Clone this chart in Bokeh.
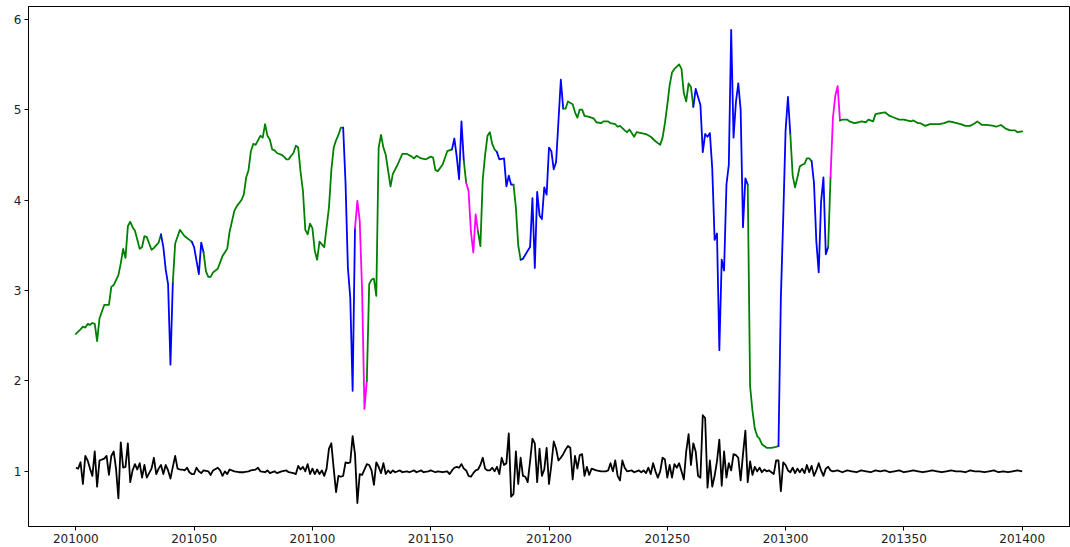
from bokeh.plotting import figure
from bokeh.models import Range1d, FixedTicker, BasicTickFormatter, ColumnDataSource
from bokeh.embed import file_html
from bokeh.resources import INLINE

PERIOD0 = 201000

# main series: period offset and value
main_off = [0, 2, 3, 4, 5, 6, 7, 8, 9, 10, 12, 14, 15, 16, 18, 19, 20, 21, 22, 23, 24, 25, 27, 28, 29, 30,
            32, 33, 35, 36, 37, 38, 39, 40, 41, 42, 44, 46, 49, 50, 52, 53, 54, 55, 56, 57, 58, 60, 61, 62,
            64, 65, 67, 68, 70, 71, 72, 73, 74, 75, 76, 77, 78, 79, 80, 81, 82, 83, 84, 85, 87, 88, 89, 90,
            91, 92, 93, 94, 95, 96, 97, 98, 99, 100, 101, 102, 103, 105, 107, 108, 109, 110, 111, 112, 113,
            114, 115, 116, 117, 118, 119, 120, 121, 122, 123, 124, 125, 126, 127, 128, 129, 130, 131, 133,
            134, 136, 138, 140, 142, 143, 144, 146, 148, 150, 151, 152, 153, 155, 157, 159, 160, 161, 162,
            163, 164, 165, 166, 167, 168, 169, 170, 171, 172, 173, 174, 175, 176, 177, 178, 179, 181, 182,
            183, 184, 185, 186, 187, 188, 189, 191, 192, 193, 194, 195, 196, 197, 198, 199, 200, 201, 202,
            203, 205, 206, 207, 208, 210, 211, 212, 213, 214, 215, 217, 219, 220, 222, 223, 225, 226, 228,
            229, 230, 232, 233, 234, 236, 237, 239, 241, 243, 245, 247, 248, 249, 250, 251, 252, 253, 255,
            256, 257, 258, 259, 260, 261, 262, 263, 264, 265, 266, 267, 268, 269, 270, 271, 272, 273, 274,
            275, 276, 277, 278, 279, 280, 281, 282, 283, 284, 285, 286, 287, 288, 289, 290, 292, 294, 296,
            297, 298, 299, 300, 301, 302, 303, 304, 305, 306, 307, 308, 309, 310, 311, 312, 313, 314, 315,
            316, 317, 318, 319, 320, 321, 322, 323, 324, 326, 327, 329, 331, 332, 334, 335, 337, 338, 340,
            342, 344, 346, 348, 350, 353, 354, 356, 357, 359, 361, 363, 365, 367, 369, 371, 374, 376, 378,
            380, 381, 383, 385, 388, 389, 391, 393, 395, 397, 398, 400]
main_val = [2.52, 2.57, 2.60, 2.59, 2.63, 2.62, 2.64, 2.63, 2.44, 2.69, 2.84, 2.84, 3.04, 3.06, 3.17, 3.30,
            3.46, 3.36, 3.71, 3.76, 3.70, 3.66, 3.46, 3.48, 3.60, 3.59, 3.45, 3.47, 3.53, 3.62, 3.48, 3.23,
            3.07, 2.18, 3.09, 3.52, 3.67, 3.60, 3.54, 3.48, 3.18, 3.53, 3.42, 3.21, 3.15, 3.15, 3.20, 3.24,
            3.31, 3.38, 3.46, 3.65, 3.88, 3.93, 4.00, 4.06, 4.25, 4.33, 4.54, 4.62, 4.61, 4.66, 4.71, 4.69,
            4.84, 4.71, 4.67, 4.56, 4.55, 4.52, 4.50, 4.48, 4.45, 4.45, 4.49, 4.52, 4.60, 4.58, 4.31, 4.10,
            3.67, 3.62, 3.74, 3.69, 3.44, 3.34, 3.54, 3.48, 3.92, 4.33, 4.58, 4.66, 4.72, 4.80, 4.80, 4.19,
            3.25, 2.92, 1.89, 3.69, 3.99, 3.77, 3.00, 1.69, 2.00, 3.07, 3.12, 3.13, 2.94, 4.58, 4.72, 4.58,
            4.50, 4.15, 4.29, 4.39, 4.51, 4.51, 4.48, 4.46, 4.49, 4.46, 4.45, 4.48, 4.47, 4.33, 4.32, 4.39,
            4.54, 4.56, 4.68, 4.48, 4.23, 4.87, 4.43, 4.19, 4.10, 3.65, 3.42, 3.84, 3.65, 3.49, 4.23, 4.50,
            4.71, 4.75, 4.62, 4.56, 4.53, 4.45, 4.46, 4.15, 4.27, 4.17, 4.17, 3.92, 3.50, 3.34, 3.35, 3.44,
            3.48, 4.02, 3.25, 4.09, 3.83, 3.79, 4.14, 4.06, 4.58, 4.54, 4.34, 4.42, 5.33, 5.01, 5.01, 5.09,
            5.06, 4.97, 4.91, 5.00, 5.00, 4.93, 4.92, 4.90, 4.86, 4.85, 4.87, 4.87, 4.85, 4.84, 4.81, 4.82,
            4.77, 4.75, 4.78, 4.70, 4.75, 4.74, 4.73, 4.70, 4.65, 4.61, 4.69, 4.85, 5.05, 5.27, 5.41, 5.45,
            5.50, 5.45, 5.18, 5.09, 5.29, 5.25, 5.03, 5.23, 5.14, 5.05, 4.53, 4.73, 4.70, 4.74, 4.35, 3.56,
            3.63, 2.34, 3.34, 3.22, 4.17, 4.39, 5.88, 4.69, 5.08, 5.29, 5.00, 3.70, 4.24, 4.17, 1.94, 1.67,
            1.47, 1.39, 1.36, 1.30, 1.26, 1.26, 1.27, 1.28, 2.92, 3.80, 4.77, 5.14, 4.73, 4.27, 4.14, 4.25,
            4.37, 4.39, 4.40, 4.46, 4.46, 4.43, 4.19, 3.54, 3.20, 3.98, 4.25, 3.40, 3.48, 4.25, 4.91, 5.15,
            5.26, 4.88, 4.89, 4.89, 4.87, 4.85, 4.86, 4.87, 4.86, 4.89, 4.87, 4.95, 4.96, 4.97, 4.93, 4.91,
            4.89, 4.89, 4.87, 4.88, 4.85, 4.85, 4.82, 4.84, 4.84, 4.84, 4.85, 4.87, 4.86, 4.84, 4.82, 4.82,
            4.85, 4.87, 4.83, 4.83, 4.82, 4.81, 4.83, 4.79, 4.77, 4.77, 4.75, 4.76]

# regime of the main series, from each start offset onward
regime_start = [0, 36, 41, 49, 54, 113, 118, 123, 159, 164, 165, 170, 178, 185, 188, 206, 261, 284, 297,
                302, 311, 318, 319, 323]
regime_state = ["calm", "volatile", "calm", "volatile", "calm", "volatile", "stress", "calm", "volatile",
                "calm", "stress", "calm", "volatile", "calm", "volatile", "calm", "volatile", "calm",
                "volatile", "calm", "volatile", "calm", "stress", "calm"]

# black ratio series
ratio_off = [0, 1, 2, 3, 4, 5, 6, 7, 8, 9, 10, 12, 13, 14, 15, 16, 17, 18, 19, 20, 21, 22, 23, 24, 25, 26,
             27, 28, 29, 30, 31, 32, 33, 34, 35, 36, 37, 38, 39, 40, 41, 42, 43, 44, 45, 46, 47, 48, 49, 50,
             51, 52, 53, 54, 56, 57, 58, 60, 61, 62, 63, 64, 65, 67, 69, 71, 73, 74, 76, 77, 78, 80, 81, 82,
             84, 85, 87, 89, 90, 92, 93, 94, 95, 96, 97, 98, 99, 100, 101, 102, 103, 104, 105, 106, 107, 108,
             109, 110, 111, 112, 113, 114, 115, 116, 117, 118, 119, 120, 121, 122, 123, 124, 125, 126, 127,
             128, 129, 130, 131, 132, 133, 134, 135, 137, 138, 140, 141, 143, 144, 146, 147, 149, 150, 152,
             153, 155, 157, 158, 159, 160, 161, 162, 163, 164, 165, 166, 167, 168, 169, 170, 171, 172, 173,
             174, 175, 176, 177, 178, 179, 180, 181, 182, 183, 184, 185, 186, 187, 188, 189, 190, 191, 192,
             193, 194, 195, 196, 197, 198, 199, 200, 201, 202, 203, 204, 205, 206, 207, 208, 209, 210, 211,
             212, 213, 214, 215, 216, 217, 218, 220, 222, 224, 225, 226, 227, 228, 229, 230, 231, 232, 233,
             235, 236, 237, 238, 239, 240, 241, 242, 243, 244, 245, 246, 247, 248, 249, 250, 251, 252, 253,
             254, 255, 256, 257, 258, 259, 260, 261, 262, 263, 264, 265, 266, 267, 268, 269, 270, 271, 272,
             273, 274, 275, 276, 277, 278, 279, 280, 281, 282, 283, 284, 285, 286, 287, 288, 289, 290, 291,
             292, 293, 294, 295, 296, 297, 298, 299, 300, 301, 302, 303, 304, 305, 306, 307, 308, 309, 310,
             311, 312, 313, 314, 315, 316, 317, 318, 319, 320, 322, 324, 326, 328, 330, 332, 334, 336, 338,
             340, 342, 344, 346, 348, 350, 352, 354, 356, 358, 360, 362, 364, 366, 368, 370, 372, 374, 376,
             378, 380, 382, 384, 386, 388, 390, 392, 394, 396, 398, 400]
ratio_val = [1.04, 1.03, 1.10, 0.86, 1.17, 1.12, 1.03, 0.95, 1.22, 0.83, 1.12, 1.14, 1.17, 0.96, 1.17, 1.22,
             1.03, 0.70, 1.32, 1.04, 1.05, 1.31, 0.88, 1.01, 1.08, 1.02, 1.09, 0.93, 1.07, 0.93, 0.98, 1.03,
             1.15, 0.97, 1.03, 1.07, 0.97, 1.07, 1.01, 0.92, 1.05, 1.17, 1.03, 1.02, 1.02, 1.01, 1.04, 0.99,
             0.97, 0.97, 1.04, 1.00, 0.98, 1.01, 1.00, 0.96, 1.01, 1.04, 1.01, 0.95, 1.00, 0.97, 1.02, 1.00,
             0.99, 0.99, 1.00, 1.01, 1.02, 1.04, 1.00, 0.99, 1.01, 0.98, 1.00, 0.98, 1.00, 1.01, 0.99, 0.98,
             0.97, 1.06, 1.02, 1.05, 1.00, 1.08, 0.97, 1.03, 0.97, 1.02, 0.97, 1.01, 0.95, 1.03, 1.25, 1.31,
             1.03, 0.77, 0.95, 0.94, 0.95, 1.10, 1.09, 1.10, 1.39, 1.19, 0.65, 0.97, 0.96, 1.02, 1.08, 1.07,
             1.01, 0.85, 1.10, 1.05, 0.98, 1.09, 0.97, 1.01, 0.98, 1.01, 0.99, 1.01, 0.99, 1.00, 0.99, 1.01,
             0.99, 1.01, 0.99, 1.00, 1.01, 0.99, 1.00, 0.99, 1.00, 0.97, 1.01, 1.04, 1.05, 1.04, 1.08, 1.03,
             1.01, 0.95, 0.94, 0.98, 1.01, 1.02, 1.07, 1.15, 1.03, 1.01, 1.01, 1.04, 1.00, 1.05, 0.97, 1.15,
             1.07, 1.09, 1.42, 0.72, 0.75, 1.22, 0.86, 1.15, 0.95, 0.94, 0.88, 1.11, 1.36, 1.31, 0.88, 1.25,
             0.95, 1.02, 1.26, 0.86, 1.07, 1.33, 1.25, 1.12, 1.15, 1.19, 1.24, 1.28, 1.26, 0.91, 1.17, 1.03,
             1.18, 1.19, 0.95, 1.05, 0.96, 1.03, 1.01, 1.00, 1.00, 1.01, 1.09, 1.00, 1.12, 0.95, 0.90, 1.12,
             1.04, 1.00, 1.01, 0.99, 1.00, 1.01, 0.99, 1.01, 0.98, 1.04, 0.97, 1.09, 1.00, 0.93, 1.00, 1.15,
             1.13, 0.93, 1.07, 0.93, 1.08, 1.04, 1.09, 1.00, 0.91, 1.22, 1.41, 1.07, 1.31, 1.22, 0.95, 0.93,
             1.62, 1.59, 0.82, 1.12, 0.83, 0.95, 1.11, 1.35, 0.84, 1.22, 0.93, 1.09, 1.01, 1.19, 1.18, 1.15,
             0.90, 1.19, 1.45, 0.88, 1.11, 0.96, 1.05, 1.00, 1.04, 0.99, 1.02, 1.00, 1.01, 0.99, 0.97, 1.12,
             1.12, 0.78, 1.10, 1.07, 1.01, 0.99, 1.04, 0.98, 1.03, 0.99, 1.03, 0.98, 1.07, 0.99, 1.06, 0.95,
             1.01, 1.09, 1.01, 0.95, 1.03, 1.05, 1.01, 1.00, 1.01, 0.99, 1.01, 1.00, 0.99, 1.01, 1.00, 0.99,
             1.01, 1.00, 1.01, 0.99, 1.00, 1.01, 0.99, 1.00, 1.01, 1.00, 0.99, 1.00, 1.01, 1.00, 0.99, 1.00,
             1.01, 1.00, 1.00, 0.99, 1.01, 1.00, 1.00, 0.99, 1.00, 1.01, 0.99, 1.00, 0.99, 1.00, 1.01, 1.00]

x_ticks = [201000, 201050, 201100, 201150, 201200, 201250, 201300, 201350, 201400]
y_ticks = [1, 2, 3, 4, 5, 6]

COLORS = {"calm": "#008000", "volatile": "#0000ff", "stress": "#ff00ff"}
FONT = "DejaVu Sans"


def state_at(o):
    s = regime_state[0]
    for st, name in zip(regime_start, regime_state):
        if o >= st:
            s = name
    return s


main_x = [PERIOD0 + o for o in main_off]
ratio_x = [PERIOD0 + o for o in ratio_off]

# group consecutive segments of the same regime into polylines
xs, ys, cs = [], [], []
cur = None
for i in range(len(main_x) - 1):
    s = state_at(main_off[i])
    if s != cur:
        xs.append([main_x[i]])
        ys.append([main_val[i]])
        cs.append(COLORS[s])
        cur = s
    xs[-1].append(main_x[i + 1])
    ys[-1].append(main_val[i + 1])

p = figure(width=1070, height=547,
           x_range=Range1d(200980, 201420), y_range=Range1d(0.39, 6.14),
           output_backend="svg", toolbar_location=None,
           min_border_left=28, min_border_right=1, min_border_top=6, min_border_bottom=21)
p.background_fill_color = "white"
p.border_fill_color = "white"
p.outline_line_color = "black"
p.outline_line_width = 1
p.xgrid.visible = False
p.ygrid.visible = False

p.multi_line(xs="xs", ys="ys", line_color="color",
             source=ColumnDataSource(dict(xs=xs, ys=ys, color=cs)),
             line_width=1.8, line_join="round", line_cap="round")
p.line(ratio_x, ratio_val, line_color="black", line_width=1.8, line_join="round")

for ax in (p.xaxis[0], p.yaxis[0]):
    ax.axis_line_color = "black"
    ax.major_tick_line_color = "black"
    ax.major_tick_in = 0
    ax.major_tick_out = 4
    ax.minor_tick_line_color = None
    ax.major_label_text_font = FONT
    ax.major_label_text_font_size = "12px"
    ax.major_label_text_color = "#222222"
    ax.major_label_standoff = 3

p.xaxis[0].ticker = FixedTicker(ticks=x_ticks)
p.xaxis[0].formatter = BasicTickFormatter(use_scientific=False)
p.yaxis[0].ticker = FixedTicker(ticks=y_ticks)

open("out.html", "w").write(file_html(p, INLINE))
